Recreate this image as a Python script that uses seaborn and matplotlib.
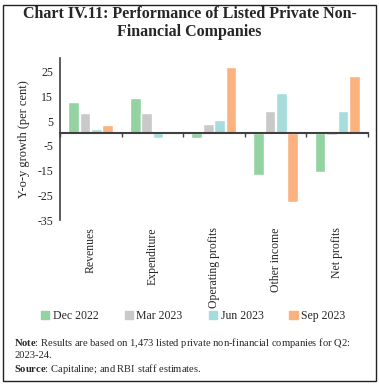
import numpy as np
import pandas as pd
import seaborn as sns
import matplotlib.pyplot as plt
from matplotlib.patches import Rectangle

categories = ['Revenues', 'Expenditure', 'Operating profits', 'Other income', 'Net profits']
quarters = ['Dec 2022', 'Mar 2023', 'Jun 2023', 'Sep 2023']
dec_2022 = [12.6, 14.2, -1.9, -17.0, -15.4]
mar_2023 = [8.4, 8.4, 3.9, 9.2, -0.6]
jun_2023 = [1.8, -1.7, 5.5, 16.5, 9.2]
sep_2023 = [3.5, 0.3, 26.7, -27.8, 23.4]
colors = ['#93D3A2', '#C9C9C9', '#A6DDDC', '#FBB27F']

# long-form table for seaborn
rows = []
for q, vals in zip(quarters, [dec_2022, mar_2023, jun_2023, sep_2023]):
    for c, v in zip(categories, vals):
        rows.append({'category': c, 'quarter': q, 'value': v})
df = pd.DataFrame(rows)

sns.set_style('white')
plt.rcParams['font.family'] = ['Liberation Serif', 'DejaVu Serif']
plt.rcParams['mathtext.fontset'] = 'custom'
plt.rcParams['mathtext.rm'] = 'Liberation Serif'
plt.rcParams['mathtext.bf'] = 'Liberation Serif:bold'

fig = plt.figure(figsize=(3.79, 3.84), dpi=100)
ax = fig.add_axes([0.158, 0.427, 0.813, 0.422])

sns.barplot(data=df, x='category', y='value', hue='quarter', palette=colors,
            width=0.74, gap=0.06, ax=ax, legend=False, saturation=1)

ax.set_ylim(-35, 30.5)
ax.set_xlim(-0.5, 4.5)
ax.set_yticks([25, 15, 5, -5, -15, -25, -35])
ax.set_yticklabels(['25', '15', '5', '-5', '-15', '-25', '-35'], fontsize=8.5)
ax.tick_params(axis='y', length=3, width=1, color='#404040', direction='out', pad=2)
ax.set_ylabel('Y-o-y growth (per cent)', fontsize=9, labelpad=5)
ax.set_xlabel('')

# x axis line at zero with ticks on category boundaries
for s in ['top', 'right']:
    ax.spines[s].set_visible(False)
ax.spines['left'].set_color('#404040')
ax.spines['left'].set_linewidth(1.2)
ax.spines['bottom'].set_position(('data', 0))
ax.spines['bottom'].set_color('#404040')
ax.spines['bottom'].set_linewidth(1.5)
ax.set_xticks([-0.5, 0.5, 1.5, 2.5, 3.5, 4.5])
ax.set_xticklabels([])
ax.tick_params(axis='x', length=3, width=1, color='#404040', direction='out', bottom=True)

trans = ax.get_xaxis_transform()
for i, c in enumerate(categories):
    ax.text(i, -0.045, c, rotation=90, ha='center', va='top', fontsize=8.5, transform=trans)

# legend
handles = [Rectangle((0, 0), 1, 1, color=col) for col in colors]
fig.legend(handles, quarters, loc='center', bbox_to_anchor=(0.51, 0.177), ncol=4,
           frameon=False, fontsize=8.5, handlelength=0.7, handleheight=0.7,
           handletextpad=0.3, columnspacing=2.2)

fig.text(0.5, 0.94, 'Chart IV.11: Performance of Listed Private Non-\nFinancial Companies',
         ha='center', va='center', fontsize=11.5, fontweight='bold', linespacing=1.15)

fig.text(0.037, 0.107, r'$\bf{Note}$: Results are based on 1,473 listed private non-financial companies for Q2:',
         fontsize=7.6, va='center')
fig.text(0.037, 0.075, '2023-24.', fontsize=7.6, va='center')
fig.text(0.037, 0.04, r'$\bf{Source}$: Capitaline; and RBI staff estimates.', fontsize=7.6, va='center')

fig.patches.append(Rectangle((0.008, 0.008), 0.984, 0.978, transform=fig.transFigure,
                             fill=False, edgecolor='#222222', linewidth=1))

plt.savefig('out.png', dpi=100)
